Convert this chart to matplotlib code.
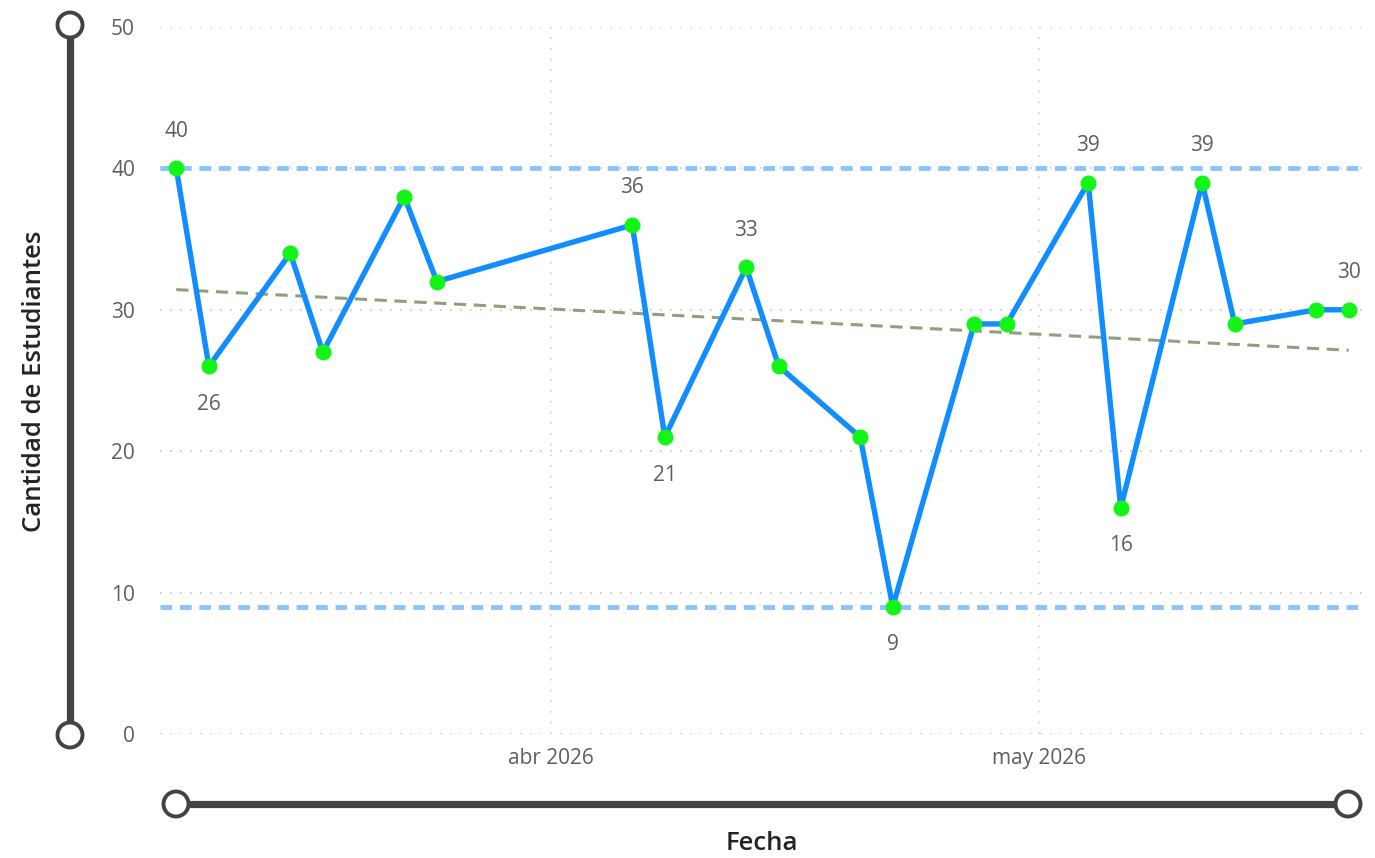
import numpy as np
import matplotlib
matplotlib.use("Agg")
import matplotlib.pyplot as plt
import matplotlib.dates as mdates
from matplotlib.lines import Line2D
from matplotlib.patches import Circle
import datetime as dt

plt.rcParams['font.family'] = ['Open Sans', 'DejaVu Sans']

# ---- data ----
fechas = ["2026-03-09", "2026-03-11", "2026-03-16", "2026-03-18", "2026-03-23",
          "2026-03-25", "2026-04-06", "2026-04-08", "2026-04-13", "2026-04-15",
          "2026-04-20", "2026-04-22", "2026-04-27", "2026-04-29", "2026-05-04",
          "2026-05-06", "2026-05-11", "2026-05-13", "2026-05-18", "2026-05-20"]
estudiantes = [40, 26, 34, 27, 38, 32, 36, 21, 33, 26, 21, 9, 29, 29, 39, 16, 39, 29, 30, 30]
etiquetas_idx = [0, 1, 6, 7, 8, 11, 14, 15, 16, 19]
etiquetas_pos = ["up", "down", "up", "down", "up", "down", "up", "down", "up", "up"]
y_ticks = [0, 10, 20, 30, 40, 50]
x_ticks = ["2026-04-01", "2026-05-01"]
x_tick_labels = ["abr 2026", "may 2026"]

dates = [dt.datetime.strptime(d, "%Y-%m-%d") for d in fechas]
xnum = mdates.date2num(dates)
vals = np.array(estudiantes, dtype=float)

W, H = 1375, 858
fig = plt.figure(figsize=(W / 100, H / 100), dpi=100)
ax_left, ax_right = 160 / W, 1365 / W
ax_bot, ax_top = 1 - 734 / H, 1 - 27 / H
ax = fig.add_axes([ax_left, ax_bot, ax_right - ax_left, ax_top - ax_bot])

tick_color = "#605E5C"
title_color = "#252423"
fs = 15

x0 = mdates.date2num(dt.datetime(2026, 3, 8))
x1 = mdates.date2num(dt.datetime(2026, 5, 21))
ax.set_xlim(x0, x1)
ax.set_ylim(0, 50)

for s in ax.spines.values():
    s.set_visible(False)

# gridlines
for yt in y_ticks:
    ax.axhline(yt, color="#C8C6C4", lw=1.2, ls=(0, (1, 5)), zorder=0)
xt_num = [mdates.date2num(dt.datetime.strptime(d, "%Y-%m-%d")) for d in x_ticks]
for xv in xt_num:
    ax.axvline(xv, color="#D2D0CE", lw=1.1, ls=(0, (1, 6)), zorder=0)

ax.set_yticks(y_ticks)
ax.set_yticklabels([str(v) for v in y_ticks])
ax.set_xticks(xt_num)
ax.set_xticklabels(x_tick_labels)
ax.tick_params(axis='both', length=0, colors=tick_color, labelsize=fs)
ax.tick_params(axis='y', pad=18)
ax.tick_params(axis='x', pad=10)

# min / max lines
ax.axhline(vals.max(), color="#8AC4FF", lw=3.5, ls=(0, (2.4, 1.6)), zorder=1)
ax.axhline(vals.min(), color="#8AC4FF", lw=3.5, ls=(0, (2.4, 1.6)), zorder=1)

# trend line
coef = np.polyfit(xnum, vals, 1)
ax.plot([xnum[0], xnum[-1]], np.polyval(coef, [xnum[0], xnum[-1]]),
        color="#8FA07A", lw=2.2, ls=(0, (4, 2.5)), zorder=2)

# series
ax.plot(xnum, vals, color="#118DFF", lw=3.9, zorder=3, clip_on=False)
ax.plot(xnum, vals, ls="none", marker="o", ms=10.5, mfc="#12F516", mec="#12F516",
        zorder=4, clip_on=False)

for i, pos in zip(etiquetas_idx, etiquetas_pos):
    off = 37 if pos == "up" else -38
    ax.annotate(str(estudiantes[i]), (xnum[i], vals[i]), xytext=(0, off),
                textcoords="offset pixels",
                ha="center", va="center", fontsize=fs, color=tick_color)

# axis titles
fig.text(35 / W, 1 - 381 / H, "Cantidad de Estudiantes", rotation=90,
         ha="center", va="center", fontsize=18.5, fontweight="semibold", color=title_color)
fig.text(762 / W, 1 - 843 / H, "Fecha", ha="center", va="center",
         fontsize=18.5, fontweight="semibold", color=title_color)

# decorative sliders
slider_col = "#444341"
fig.add_artist(Line2D([70 / W, 70 / W], [1 - 25 / H, 1 - 735 / H], color=slider_col,
                      lw=5.2, transform=fig.transFigure, zorder=1))
fig.add_artist(Line2D([176 / W, 1348 / W], [1 - 804 / H, 1 - 804 / H], color=slider_col,
                      lw=5.2, transform=fig.transFigure, zorder=1))
for (cx, cy) in [(70, 25), (70, 735), (176, 804), (1348, 804)]:
    c = Circle((cx, H - cy), 12.5, transform=None, facecolor="white",
               edgecolor=slider_col, lw=2.8, zorder=5)
    fig.add_artist(c)

fig.savefig("out.png", dpi=100, facecolor="white")
